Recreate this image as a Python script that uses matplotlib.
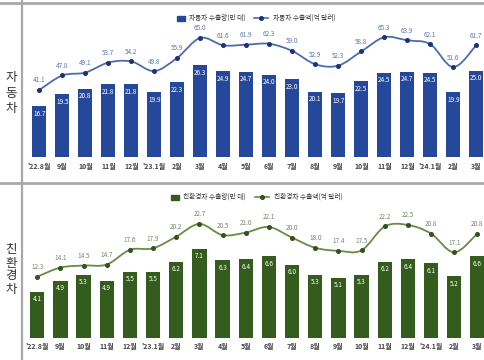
import matplotlib
matplotlib.use("Agg")
import matplotlib.pyplot as plt
from matplotlib.path import Path
from matplotlib.patches import PathPatch
import numpy as np

plt.rcParams['font.family'] = ['Noto Sans CJK KR', 'DejaVu Sans']

months = ["'22.8월", "9월", "10월", "11월", "12월", "'23.1월", "2월", "3월", "4월", "5월",
          "6월", "7월", "8월", "9월", "10월", "11월", "12월", "'24.1월", "2월", "3월"]

car_volume = [16.7, 19.5, 20.8, 21.8, 21.8, 19.9, 22.3, 26.3, 24.9, 24.7,
              24.0, 23.0, 20.1, 19.7, 22.5, 24.5, 24.7, 24.5, 19.9, 25.0]
car_value = [41.1, 47.8, 49.1, 53.7, 54.2, 49.8, 55.9, 65.0, 61.6, 61.9,
             62.3, 59.0, 52.9, 52.3, 58.8, 65.3, 63.9, 62.1, 51.6, 61.7]

eco_volume = [4.1, 4.9, 5.3, 4.9, 5.5, 5.5, 6.2, 7.1, 6.3, 6.4,
              6.6, 6.0, 5.3, 5.1, 5.3, 6.2, 6.4, 6.1, 5.2, 6.6]
eco_value = [12.3, 14.1, 14.5, 14.7, 17.6, 17.9, 20.2, 22.7, 20.5, 21.0,
             22.1, 20.0, 18.0, 17.4, 17.5, 22.2, 22.5, 20.8, 17.1, 20.8]

car_title = "자동차"
eco_title = "친환경차"
car_bar_label = "자동차 수출량(만 대)"
car_line_label = "자동차 수출액(억 달러)"
eco_bar_label = "친환경차 수출량(만 대)"
eco_line_label = "친환경차 수출액(억 달러)"

W, H = 485, 360
fig = plt.figure(figsize=(W / 100, H / 100), dpi=100)
fig.patch.set_facecolor('white')


def smooth_path(xs, ys, t=0.5):
    verts = [(xs[0], ys[0])]
    codes = [Path.MOVETO]
    n = len(xs)
    for i in range(n - 1):
        x0, y0 = (xs[i - 1], ys[i - 1]) if i > 0 else (xs[i], ys[i])
        x1, y1 = xs[i], ys[i]
        x2, y2 = xs[i + 1], ys[i + 1]
        x3, y3 = (xs[i + 2], ys[i + 2]) if i + 2 < n else (xs[i + 1], ys[i + 1])
        c1 = (x1 + (x2 - x0) * t / 3, y1 + (y2 - y0) * t / 3)
        c2 = (x2 - (x3 - x1) * t / 3, y2 - (y3 - y1) * t / 3)
        verts += [c1, c2, (x2, y2)]
        codes += [Path.CURVE4] * 3
    return Path(verts, codes)


def panel(top_px, bot_px, x0_px, step_px, vols, vals, bar_ylim, line_ylim,
          bar_color, line_color, marker_color, val_label_color,
          bar_lab, line_lab, legend_y_px, leg_bar_x, leg_line_x):
    left_px, right_px = 23, W
    ax = fig.add_axes([left_px / W, (H - bot_px) / H,
                       (right_px - left_px) / W, (bot_px - top_px) / H])
    x = np.arange(len(months))
    ax.set_xlim((left_px - x0_px) / step_px, (right_px - x0_px) / step_px)
    ax.set_ylim(*bar_ylim)
    ax.bar(x, vols, width=0.62, color=bar_color, zorder=2)
    for xi, v in zip(x, vols):
        ax.annotate(f"{v:.1f}", (xi, v), xytext=(0, -2.5), textcoords='offset points',
                    ha='center', va='top', fontsize=4.6, color='white', zorder=5)
    ax.set_xticks(x)
    ax.set_xticklabels(months, fontsize=5.0, color='#444444', fontweight='bold')
    ax.tick_params(axis='x', length=0, pad=4)
    ax.set_yticks([])
    for s in ax.spines.values():
        s.set_visible(False)
    ax.patch.set_alpha(0)

    ax2 = ax.twinx()
    ax2.set_ylim(*line_ylim)
    ax2.set_xlim(ax.get_xlim())
    p = smooth_path(list(x), list(vals))
    ax2.add_patch(PathPatch(p, facecolor='none', edgecolor=line_color, lw=1.3, zorder=3))
    ax2.plot(x, vals, linestyle='none', marker='o', ms=2.6, color=marker_color, zorder=4)
    for xi, v in zip(x, vals):
        ax2.annotate(f"{v:.1f}", (xi, v), xytext=(0, 4), textcoords='offset points',
                     ha='center', va='bottom', fontsize=4.6, color=val_label_color)
    ax2.set_yticks([])
    for s in ax2.spines.values():
        s.set_visible(False)

    # legend
    ly = (H - legend_y_px) / H
    fig.patches.append(plt.Rectangle((leg_bar_x / W, ly - 2.5 / H), 8 / W, 5 / H,
                                     transform=fig.transFigure, color=bar_color))
    fig.text((leg_bar_x + 12) / W, ly, bar_lab, fontsize=4.8, va='center', color='#333333')
    fig.lines.append(plt.Line2D([(leg_line_x - 7) / W, (leg_line_x + 7) / W], [ly, ly],
                                transform=fig.transFigure, color=line_color, lw=1.2))
    fig.lines.append(plt.Line2D([leg_line_x / W], [ly], transform=fig.transFigure,
                                marker='o', ms=2.6, color=marker_color, linestyle='none'))
    fig.text((leg_line_x + 12) / W, ly, line_lab, fontsize=4.8, va='center', color='#333333')


panel(10, 157, 39.3, 23.0, car_volume, car_value, (4.76, 39.2), (10.4, 77.8),
      '#26489a', '#4c6cae', '#1d3470', '#5b78b2',
      car_bar_label, car_line_label, 18, 177, 261)
panel(192, 337.5, 37.3, 23.16, eco_volume, eco_value, (0.925, 11.08), (0.31, 29.0),
      '#345c1c', '#6a8a48', '#34521c', '#76866a',
      eco_bar_label, eco_line_label, 197, 171, 262)

# frame lines
gray = '#a8a8a8'
fig.lines.append(plt.Line2D([0, 1], [(H - 2.5) / H] * 2, transform=fig.transFigure, color=gray, lw=2))
fig.lines.append(plt.Line2D([0, 1], [(H - 183) / H] * 2, transform=fig.transFigure, color=gray, lw=2))
fig.lines.append(plt.Line2D([21.5 / W] * 2, [0, 1], transform=fig.transFigure, color=gray, lw=1.6))

# side titles
for i, ch in enumerate(car_title):
    fig.text(11 / W, (H - (78 + i * 15)) / H, ch, fontsize=9, ha='center', va='center', color='#333333')
for i, ch in enumerate(eco_title):
    fig.text(11 / W, (H - (250 + i * 13)) / H, ch, fontsize=9, ha='center', va='center', color='#333333')

fig.savefig('out.png', dpi=100)
